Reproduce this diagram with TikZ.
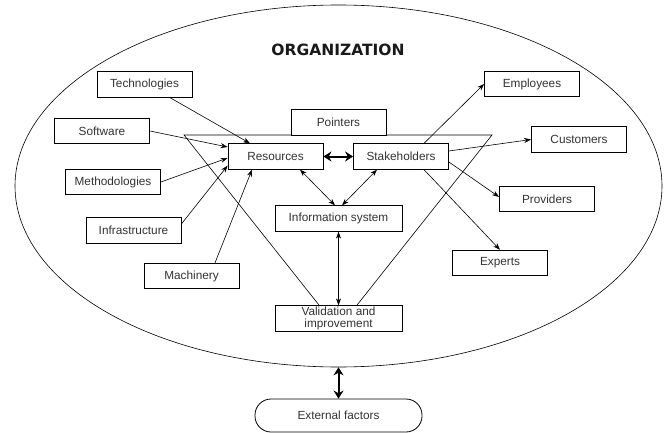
\documentclass[tikz,border=0pt]{standalone}
\usepackage{fontspec}
\setmainfont{Liberation Sans}
\newfontfamily\titlefont{DejaVu Sans}
\usetikzlibrary{arrows.meta,shapes.geometric}
\begin{document}
\begin{tikzpicture}[x=1pt,y=-1pt,
  box/.style={draw=black,line width=0.8pt,fill=white,inner sep=0pt,
    font=\fontsize{11.8}{12}\selectfont,text=black!80,
    minimum width=95pt,minimum height=25.5pt},
  wide/.style={box,minimum width=127pt,align=center},
  thin/.style={line width=0.6pt,-{Stealth[length=7pt,width=5pt]}},
  both/.style={line width=0.6pt,{Stealth[length=7pt,width=5pt]}-{Stealth[length=7pt,width=5pt]}},
  thick/.style={line width=2pt,{Stealth[length=8pt,width=10pt]}-{Stealth[length=8pt,width=10pt]}},
  outline/.style={draw=black,line width=0.6pt}]
\useasboundingbox (0,0) rectangle (669,433);

% the organization boundary
\node[ellipse,outline,minimum width=647pt,minimum height=362pt,inner sep=0pt] (org) at (338.5,186) {};
\node[font=\titlefont\bfseries\fontsize{15.5}{16}\selectfont,text=black!90] (title) at (338,50) {ORGANIZATION};

% inverted triangle behind the boxes
\coordinate (tl) at (184,135);
\coordinate (tr) at (492,135);
\coordinate (tb) at (338,329);
\draw[outline] (tl) -- (tr) -- (tb) -- cycle;

% inputs
\node[box] (tech)  at (144.5,84.5) {Technologies};
\node[box] (soft)  at (102,131)    {Software};
\node[box] (meth)  at (113,182)    {Methodologies};
\node[box] (infra) at (133.5,230.5){Infrastructure};
\node[box] (mach)  at (191.5,276)  {Machinery};

% core
\node[box] (point) at (338.5,122.5){Pointers};
\node[box] (res)   at (275.5,156.5){Resources};
\node[box] (stake) at (401,156.5)  {Stakeholders};
\node[wide] (info) at (338.5,218.5){Information system};
\node[wide,font=\fontsize{11.8}{11.5}\selectfont] (valid) at (338.5,318.5){Validation and\\improvement};

% stakeholder groups
\node[box] (empl) at (532,84)    {Employees};
\node[box] (cust) at (579,139.5) {Customers};
\node[box] (prov) at (547,199)   {Providers};
\node[box] (expt) at (500,263)   {Experts};

% environment
\node[box,rounded corners=16pt,minimum width=167pt,minimum height=33pt] (ext) at (338.5,415.5) {External factors};

% connectors into resources
\draw[thin] ([xshift=25.5pt]tech.south) -- ([xshift=-25.5pt]res.north);
\draw[thin] (soft.east) -- ([yshift=9.5pt]res.west);
\draw[thin] (meth.east) -- ([yshift=-1.5pt]res.west);
\draw[thin] ([yshift=6.5pt]infra.east) -- ([yshift=4pt]res.south west);
\draw[thin] ([xshift=23.5pt]mach.north) -- ([xshift=-23.5pt]res.south);

% core links
\draw[thick] (res.east) -- (stake.west);
\draw[both] ([xshift=24.5pt]res.south) -- ([xshift=-3.5pt]info.north);
\draw[both] ([xshift=-24pt]stake.south) -- ([xshift=3.5pt]info.north);
\draw[both] (info.south) -- (valid.north);

% stakeholder fan-out
\draw[thin] ([xshift=23pt]stake.north) -- (empl.west);
\draw[thin] ([yshift=5.5pt]stake.east) -- (cust.west);
\draw[thin] ([yshift=-5.5pt]stake.east) -- ([yshift=2pt]prov.west);
\draw[thin] ([xshift=23pt]stake.south) -- (expt.north);

% organization and its environment
\draw[thick] (org.south) -- (ext.north);
\end{tikzpicture}
\end{document}
